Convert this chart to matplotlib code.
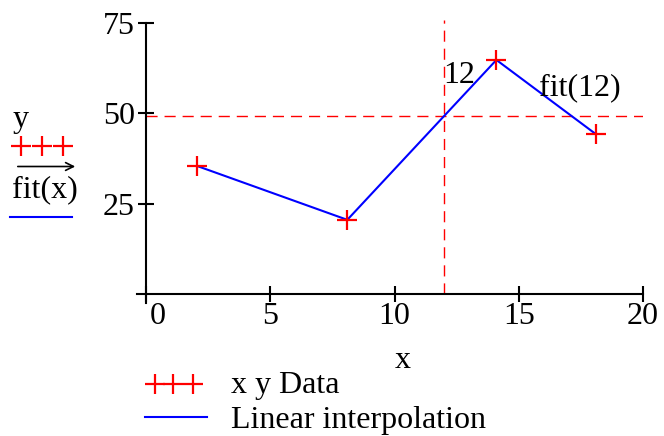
import numpy as np
import matplotlib
matplotlib.use('Agg')
import matplotlib.pyplot as plt
import matplotlib.transforms as mtransforms
from matplotlib.lines import Line2D
from matplotlib.patches import FancyArrowPatch

plt.rcParams['font.family'] = ['Liberation Serif', 'DejaVu Serif']

# data points
x_data = [2.05, 8.1, 14.1, 18.1]
y_data = [35.4, 20.5, 64.7, 44.2]
x_eval = 12
x_ticks = [0, 5, 10, 15, 20]
y_ticks = [25, 50, 75]

y_eval = np.interp(x_eval, x_data, y_data)

FS = 23
fig = plt.figure(figsize=(6.64, 4.36), dpi=100)
ax = fig.add_axes([0.2068, 0.305, 0.7616, 0.643])

ax.plot(x_data, y_data, color='#0000ff', lw=1.5, zorder=3)
ax.plot(x_data, y_data, ls='none', marker='+', ms=15, mew=1.6, color='#ff0000', zorder=4)

ax.set_xlim(-0.35, 20)
ax.set_ylim(-2.5, 75)

# cursor lines for fit(12)
ymin_frac = (0 - ax.get_ylim()[0]) / (ax.get_ylim()[1] - ax.get_ylim()[0])
ax.axvline(x_eval, ymin=ymin_frac, ymax=1.01, color='#ff0000', lw=1, dashes=(8, 5), clip_on=False)
xmin_frac = (0 - ax.get_xlim()[0]) / (ax.get_xlim()[1] - ax.get_xlim()[0])
ax.axhline(y_eval, xmin=xmin_frac, xmax=1.0, color='#ff0000', lw=1, dashes=(8, 5))

ax.text(x_eval - 0.05, 60.5, '12', fontsize=FS, ha='left', va='center')
ax.text(15.8, 57, 'fit(12)', fontsize=FS, ha='left', va='center')

# mathcad style crossing axes
for s in ['top', 'right']:
    ax.spines[s].set_visible(False)
ax.spines['left'].set_position(('data', 0))
ax.spines['bottom'].set_position(('data', 0))
ax.spines['left'].set_bounds(-2.5, 75)
ax.spines['bottom'].set_bounds(-0.35, 20)
for s in ['left', 'bottom']:
    ax.spines[s].set_linewidth(1.5)

ax.set_xticks(x_ticks)
ax.set_xticklabels([str(t) for t in x_ticks])
ax.set_yticks(y_ticks)
ax.set_yticklabels([str(t) for t in y_ticks])
ax.tick_params(direction='inout', length=12, width=1.5, labelsize=FS, pad=2)
ax.tick_params(axis='x', pad=0)

# shift the "0" label to the right like the original
lbl0 = ax.get_xticklabels()[0]
lbl0.set_transform(lbl0.get_transform() + mtransforms.ScaledTranslation(12 / 100, 0, fig.dpi_scale_trans))

# x axis title
fig.text(403 / 664, 1 - 360 / 436, 'x', fontsize=FS, ha='center', va='center')

# left-side mathcad legend
fig.text(13 / 664, 1 - 120 / 436, 'y', fontsize=FS, ha='left', va='center')
fig.add_artist(Line2D(np.array([20.5, 41.5, 62.5]) / 664, [1 - 146 / 436] * 3, transform=fig.transFigure,
                      ls='none', marker='+', ms=15, mew=1.6, color='#ff0000'))
fig.add_artist(FancyArrowPatch((15 / 664, 1 - 166.5 / 436), (78 / 664, 1 - 166.5 / 436),
                               transform=fig.transFigure, arrowstyle='->', mutation_scale=14,
                               lw=1.2, color='black'))
fig.text(12 / 664, 1 - 190 / 436, 'fit(x)', fontsize=FS, ha='left', va='center')
fig.add_artist(Line2D([10 / 664, 72 / 664], [1 - 217 / 436] * 2, transform=fig.transFigure,
                      color='#0000ff', lw=1.5))

# bottom legend
fig.add_artist(Line2D(np.array([154.5, 173.5, 192.5]) / 664, [1 - 384 / 436] * 3, transform=fig.transFigure,
                      ls='none', marker='+', ms=15, mew=1.6, color='#ff0000'))
fig.text(231 / 664, 1 - 385 / 436, 'x y Data', fontsize=FS, ha='left', va='center')
fig.add_artist(Line2D([145 / 664, 207 / 664], [1 - 416.5 / 436] * 2, transform=fig.transFigure,
                      color='#0000ff', lw=1.5))
fig.text(231 / 664, 1 - 420 / 436, 'Linear interpolation', fontsize=FS, ha='left', va='center')

fig.savefig('out.png', dpi=100)
